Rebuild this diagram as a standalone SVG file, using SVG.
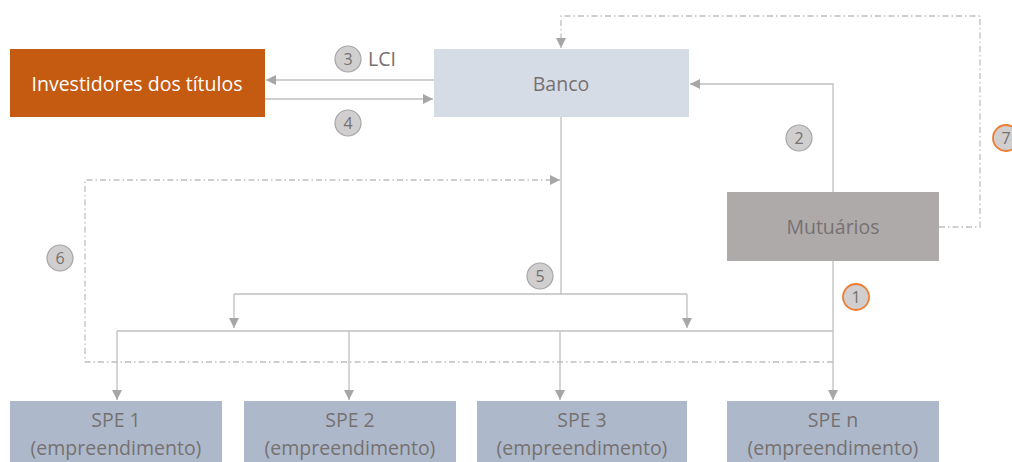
<svg xmlns="http://www.w3.org/2000/svg" width="1012" height="462" viewBox="0 0 1012 462">
<defs>
<marker id="ah" markerWidth="10" markerHeight="10" refX="10" refY="5" orient="auto" markerUnits="userSpaceOnUse">
<path d="M0,0 L10,5 L0,10 Z" fill="#A6A6A6"/>
</marker>
<style>
text{font-family:"Open Sans","Noto Sans",sans-serif;text-anchor:middle}
.lbl{font-size:19.5px;fill:#767171}
.num{font-size:16px;fill:#767171}
.ln{fill:none;stroke:#BFBFBF;stroke-width:1.3}
.da{fill:none;stroke:#BFBFBF;stroke-width:1.3;stroke-dasharray:6 3 1.5 3}
.c{fill:#D0CECE;stroke:#A6A6A6;stroke-width:1.2}
.co{fill:#D0CECE;stroke:#ED7D31;stroke-width:1.8}
</style>
</defs>
<rect width="1012" height="462" fill="#FFFFFF"/>
<g id="connectors">
<path class="ln" d="M434,80 H266" marker-end="url(#ah)"/>
<path class="ln" d="M265,99 H433" marker-end="url(#ah)"/>
<path class="ln" d="M833,192 V84 H690" marker-end="url(#ah)"/>
<path class="da" d="M939,227 H980 V16 H561 V48" marker-end="url(#ah)"/>
<path class="ln" d="M561,117 V294"/>
<path class="ln" d="M234,294 H687"/>
<path class="ln" d="M234,294 V328" marker-end="url(#ah)"/>
<path class="ln" d="M687,294 V328" marker-end="url(#ah)"/>
<path class="ln" d="M833,260 V400" marker-end="url(#ah)"/>
<path class="ln" d="M117,331 H833"/>
<path class="ln" d="M117,331 V400" marker-end="url(#ah)"/>
<path class="ln" d="M349,331 V400" marker-end="url(#ah)"/>
<path class="ln" d="M560,331 V400" marker-end="url(#ah)"/>
<path class="da" d="M833,362 H85 V180 H560" marker-end="url(#ah)"/>
</g>
<g id="investidores">
<rect x="10" y="49" width="255" height="68" fill="#C55A11"/>
<text x="137" y="91" class="lbl" style="fill:#FFFFFF">Investidores dos títulos</text>
</g>
<g id="banco">
<rect x="434" y="49" width="255" height="68" fill="#D6DCE5"/>
<text x="561" y="91" class="lbl">Banco</text>
</g>
<g id="mutuarios">
<rect x="727" y="192" width="212" height="69" fill="#AEAAAA"/>
<text x="833" y="234" class="lbl">Mutuários</text>
</g>
<g id="spe1">
<rect x="10" y="401" width="212" height="70" fill="#ADB9CA"/>
<text x="116" y="427" class="lbl">SPE 1</text>
<text x="116" y="455" class="lbl">(empreendimento)</text>
</g>
<g id="spe2">
<rect x="244" y="401" width="212" height="70" fill="#ADB9CA"/>
<text x="350" y="427" class="lbl">SPE 2</text>
<text x="350" y="455" class="lbl">(empreendimento)</text>
</g>
<g id="spe3">
<rect x="477" y="401" width="210" height="70" fill="#ADB9CA"/>
<text x="582" y="427" class="lbl">SPE 3</text>
<text x="582" y="455" class="lbl">(empreendimento)</text>
</g>
<g id="spen">
<rect x="727" y="401" width="212" height="70" fill="#ADB9CA"/>
<text x="833" y="427" class="lbl">SPE n</text>
<text x="833" y="455" class="lbl">(empreendimento)</text>
</g>
<g id="step3"><circle class="c" cx="348" cy="59" r="13"/><text x="348" y="65" class="num">3</text><text x="382" y="66" class="lbl">LCI</text></g>
<g id="step4"><circle class="c" cx="348" cy="123" r="13"/><text x="348" y="129" class="num">4</text></g>
<g id="step2"><circle class="c" cx="799" cy="138" r="13"/><text x="799" y="144" class="num">2</text></g>
<g id="step7"><circle class="co" cx="1006" cy="138" r="13"/><text x="1006" y="144" class="num">7</text></g>
<g id="step6"><circle class="c" cx="60" cy="258" r="13"/><text x="60" y="264" class="num">6</text></g>
<g id="step5"><circle class="c" cx="540" cy="276" r="13"/><text x="540" y="282" class="num">5</text></g>
<g id="step1"><circle class="co" cx="856" cy="297" r="13"/><text x="856" y="303" class="num">1</text></g>
</svg>
